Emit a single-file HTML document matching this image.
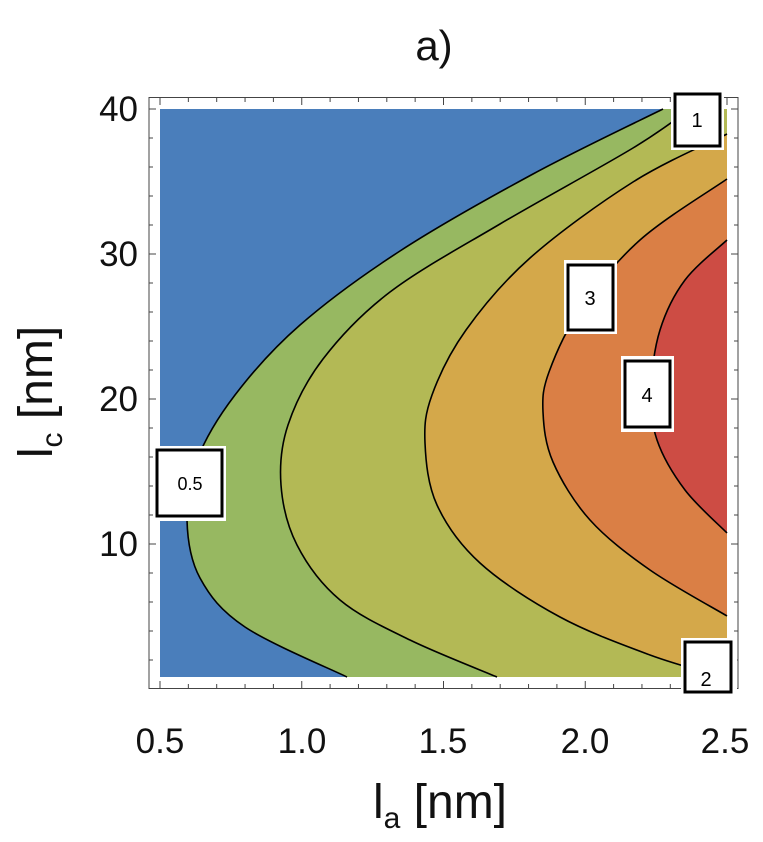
<!DOCTYPE html>
<html><head><meta charset="utf-8"><style>
html,body{margin:0;padding:0;background:#fff;}
svg{display:block;font-family:"Liberation Sans",sans-serif;}
</style></head><body>
<svg id="s" width="763" height="842" viewBox="0 0 763 842" xmlns="http://www.w3.org/2000/svg">
<rect x="160" y="109" width="567" height="568" fill="#4a7ebb"/>
<g id="fills"></g>
<g id="lines" fill="none" stroke="#000" stroke-width="1.6"></g>
<rect x="149" y="97.5" width="589" height="591" fill="none" stroke="#444" stroke-width="1"/>
<g id="ticks" stroke="#444" stroke-width="1"></g>
<g font-size="18" text-anchor="middle">
<rect x="153" y="446" width="73" height="75" fill="#fff"/>
<rect x="157" y="450" width="65" height="66" fill="#fff" stroke="#000" stroke-width="3"/>
<text x="190" y="490">0.5</text>
<rect x="671" y="94" width="53" height="56" fill="#fff"/>
<rect x="675" y="94" width="45" height="52" fill="#fff" stroke="#000" stroke-width="3"/>
<text x="697" y="127" font-size="20">1</text>
<rect x="564" y="260" width="53" height="74" fill="#fff"/>
<rect x="568" y="265" width="45" height="65" fill="#fff" stroke="#000" stroke-width="3"/>
<text x="590" y="305" font-size="20">3</text>
<rect x="621" y="356" width="53" height="76" fill="#fff"/>
<rect x="625" y="361" width="45" height="66" fill="#fff" stroke="#000" stroke-width="3"/>
<text x="647" y="402" font-size="20">4</text>
<rect x="681" y="638" width="56" height="52" fill="#fff"/>
<rect x="685" y="642" width="46" height="50" fill="#fff" stroke="#000" stroke-width="3"/>
<text x="706" y="686" font-size="20">2</text>
</g>
<g font-size="35" text-anchor="middle" fill="#111">
<text x="160" y="753">0.5</text><text x="302" y="753">1.0</text><text x="443" y="753">1.5</text><text x="585" y="753">2.0</text><text x="725" y="753">2.5</text>
</g>
<g font-size="35" text-anchor="end" fill="#111">
<text x="138" y="121">40</text><text x="138" y="266">30</text><text x="138" y="411">20</text><text x="138" y="556">10</text>
</g>
<text x="434" y="60" font-size="42" text-anchor="middle" fill="#111">a)</text>
<text x="440" y="818" font-size="48" text-anchor="middle" fill="#111">l<tspan font-size="30" dy="10">a</tspan><tspan dy="-10"> [nm]</tspan></text>
<text transform="translate(52,392) rotate(-90)" font-size="48" text-anchor="middle" fill="#111">l<tspan font-size="30" dy="10">c</tspan><tspan dy="-10"> [nm]</tspan></text>
</svg>
<script>
function cr(p){var d='M'+p[0][0]+','+p[0][1];
for(var i=0;i<p.length-1;i++){var p0=p[i-1]||p[i],p1=p[i],p2=p[i+1],p3=p[i+2]||p2;
var c1=[p1[0]+(p2[0]-p0[0])/6,p1[1]+(p2[1]-p0[1])/6],c2=[p2[0]-(p3[0]-p1[0])/6,p2[1]-(p3[1]-p1[1])/6];
d+=' C'+c1[0].toFixed(1)+','+c1[1].toFixed(1)+' '+c2[0].toFixed(1)+','+c2[1].toFixed(1)+' '+p2[0]+','+p2[1];}
return d;}
var C=[
{c:'#97b861',p:[[663,109],[533,174],[400,251],[300,325],[235,395],[197,460],[187,520],[200,578],[245,627],[347,677]]},
{c:'#b3b955',p:[[690,109],[633,148],[500,224],[390,292],[323,359],[288,425],[281,485],[297,545],[340,600],[410,640],[497,677]]},
{c:'#d4a84a',p:[[727,134],[633,182],[530,258],[466,330],[432,395],[425,443],[437,505],[480,563],[560,617],[650,655],[722,677]]},
{c:'#da7f45',p:[[727,179],[640,240],[580,310],[549,372],[543,412],[553,462],[590,520],[650,570],[727,616]]},
{c:'#cd4c44',p:[[727,240],[685,280],[660,330],[651,390],[657,440],[685,490],[727,533]]}];
var F='',L='';
C.forEach(function(o){var d=cr(o.p);var first=o.p[0];
var close=' L727,677 L727,'+first[1]+' Z';
if(o.p[o.p.length-1][1]<677) close=' Z';
F+='<path d="'+d+close+'" fill="'+o.c+'"/>';L+='<path d="'+d+'"/>';});
document.getElementById('fills').innerHTML=F;document.getElementById('lines').innerHTML=L;
var g=document.getElementById('ticks'),h='';
for(var i=0;i<=20;i++){var x=160+i*28.35,T=(i%5==0)?7:4;
h+='<line x1="'+x+'" y1="688" x2="'+x+'" y2="'+(688-T)+'"/><line x1="'+x+'" y1="98" x2="'+x+'" y2="'+(98+T)+'"/>';}
for(var v=2;v<=40;v+=2){var y=399-(v-20)*14.5,T=(v%10==0)?7:4;
h+='<line x1="149" y1="'+y+'" x2="'+(149+T)+'" y2="'+y+'"/><line x1="738" y1="'+y+'" x2="'+(738-T)+'" y2="'+y+'"/>';}
g.innerHTML=h;
</script>
</body></html>
